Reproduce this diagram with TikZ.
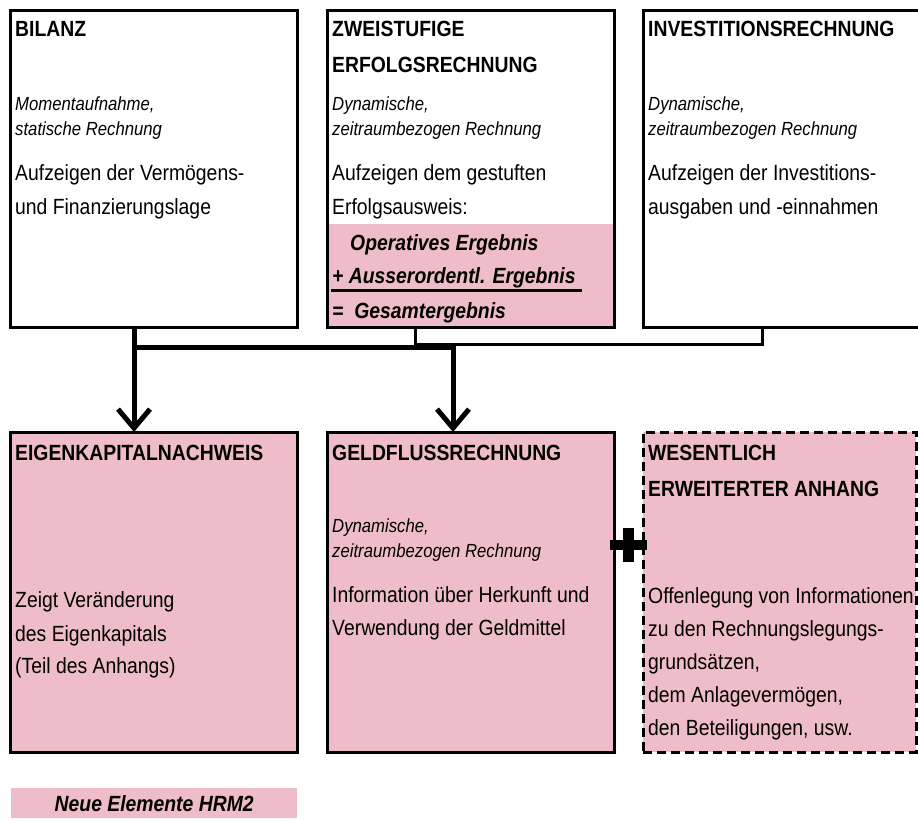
\documentclass[tikz,border=0pt]{standalone}
\usepackage{fontspec}
\setmainfont[FakeStretch=0.88]{Liberation Sans}
\usepackage{tikz}
\usetikzlibrary{arrows.meta,backgrounds}
\definecolor{hrmpink}{RGB}{239,189,201}

\begin{document}
\begin{tikzpicture}[x=1pt,y=-1pt]
  \tikzstyle{every node}+=[inner sep=0pt]
  \tikzstyle{kasten}=[draw=black,line width=3pt,outer sep=0pt,anchor=north west,minimum width=287pt,minimum height=317pt]
  \tikzstyle{neukasten}=[kasten,fill=hrmpink,minimum height=320pt]
  \tikzstyle{titel}=[anchor=base west,font=\fontsize{22}{26}\selectfont\bfseries]
  \tikzstyle{kursiv}=[anchor=base west,font=\fontsize{19}{23}\selectfont\itshape]
  \tikzstyle{fliess}=[anchor=base west,font=\fontsize{22}{26}\selectfont]
  \tikzstyle{ergebnis}=[anchor=base west,font=\fontsize{22}{26}\selectfont\bfseries\itshape]
  \tikzstyle{fluss}=[line width=5pt,-{Straight Barb[length=19pt,width=32pt]}]
  \tikzstyle{flussduenn}=[line width=3pt]
  \useasboundingbox (0,0) rectangle (918,819);
  \clip (0,0) rectangle (918,819);
  \node[kasten] (bilanz) at (10,10) {};
  \node[kasten] (zwei) at (327,10) {};
  \node[kasten,minimum width=300pt] (invest) at (643,10) {};
  \node[neukasten] (eigen) at (10,432) {};
  \node[neukasten] (geld) at (327,432) {};
  \node[neukasten,minimum width=273pt,dash pattern=on 9pt off 5pt] (anhang) at (643,432) {};
  \coordinate (pinktop) at (0,224);
  \begin{scope}[on background layer]
    \fill[hrmpink] (zwei.west |- pinktop) rectangle (zwei.south east);
  \end{scope}
  \node[titel] (bilanz-titel) at (15,36) {BILANZ};
  \node[kursiv] (bilanz-art1) at (15,110) {Momentaufnahme,};
  \node[kursiv] (bilanz-art2) at (15,135) {statische Rechnung};
  \node[fliess] (bilanz-z1) at (15,180) {Aufzeigen der Vermögens-};
  \node[fliess] (bilanz-z2) at (15,214) {und Finanzierungslage};
  \node[titel] (zwei-titel1) at (332,36) {ZWEISTUFIGE};
  \node[titel] (zwei-titel2) at (332,72) {ERFOLGSRECHNUNG};
  \node[kursiv] (zwei-art1) at (332,110) {Dynamische,};
  \node[kursiv] (zwei-art2) at (332,135) {zeitraumbezogen Rechnung};
  \node[fliess] (zwei-z1) at (332,180) {Aufzeigen dem gestuften};
  \node[fliess] (zwei-z2) at (332,214) {Erfolgsausweis:};
  \node[ergebnis] (operativ) at (350,250) {Operatives Ergebnis};
  \node[ergebnis] (ausser) at (332,283) {+\ Ausserordentl. Ergebnis};
  \node[ergebnis] (gesamt) at (332,318) {=\ \ Gesamtergebnis};
  \draw[line width=3pt] ([shift={(-1,3)}]ausser.south west) -- ([shift={(6,3)}]ausser.south east);
  \node[titel] (invest-titel) at (648,36) {INVESTITIONSRECHNUNG};
  \node[kursiv] (invest-art1) at (648,110) {Dynamische,};
  \node[kursiv] (invest-art2) at (648,135) {zeitraumbezogen Rechnung};
  \node[fliess] (invest-z1) at (648,180) {Aufzeigen der Investitions-};
  \node[fliess] (invest-z2) at (648,214) {ausgaben und -einnahmen};
  \node[titel] (eigen-titel) at (15,460) {EIGENKAPITALNACHWEIS};
  \node[fliess] (eigen-z1) at (15,607) {Zeigt Veränderung};
  \node[fliess] (eigen-z2) at (15,641) {des Eigenkapitals};
  \node[fliess] (eigen-z3) at (15,673) {(Teil des Anhangs)};
  \node[titel] (geld-titel) at (332,460) {GELDFLUSSRECHNUNG};
  \node[kursiv] (geld-art1) at (332,532) {Dynamische,};
  \node[kursiv] (geld-art2) at (332,557) {zeitraumbezogen Rechnung};
  \node[fliess] (geld-z1) at (332,602) {Information über Herkunft und};
  \node[fliess] (geld-z2) at (332,635) {Verwendung der Geldmittel};
  \node[titel] (anhang-titel1) at (648,460) {WESENTLICH};
  \node[titel] (anhang-titel2) at (648,496) {ERWEITERTER ANHANG};
  \node[fliess] (anhang-z1) at (648,603) {Offenlegung von Informationen};
  \node[fliess] (anhang-z2) at (648,636) {zu den Rechnungslegungs-};
  \node[fliess] (anhang-z3) at (648,669) {grundsätzen,};
  \node[fliess] (anhang-z4) at (648,702) {dem Anlagevermögen,};
  \node[fliess] (anhang-z5) at (648,735) {den Beteiligungen, usw.};
  \coordinate (knotenA) at (134,347);
  \coordinate (knotenB) at (453,347);
  \coordinate (knotenC) at (415,344);
  \coordinate (knotenD) at (762,344);
  \draw[flussduenn] (zwei.south -| knotenC) -- (knotenC) -- (knotenD) -- (invest.south -| knotenD);
  \draw[fluss] (bilanz.south -| knotenA) -- (eigen.north -| knotenA);
  \draw[fluss] (knotenA) -- (knotenB) -- (geld.north -| knotenB);
  \coordinate (plus) at (628.5,545);
  \fill (plus) +(-18.5,-5) rectangle +(18.5,5);
  \fill (plus) +(-5.5,-17) rectangle +(5.5,17);
  \node[fill=hrmpink,anchor=north west,minimum width=286pt,minimum height=30pt,font=\fontsize{22}{26}\selectfont\bfseries\itshape] (legende) at (11,788) {Neue Elemente HRM2};
\end{tikzpicture}
\end{document}
